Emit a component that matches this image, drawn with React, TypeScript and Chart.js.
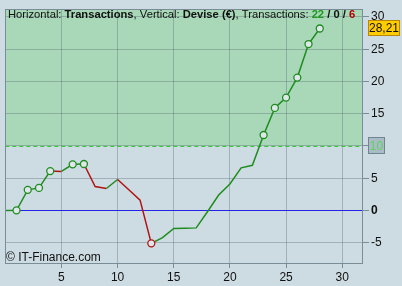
import React, { useEffect, useRef } from "react";
import { Chart, registerables } from "chart.js";
Chart.register(...registerables);

const transactions = [0, 1, 2, 3, 4, 5, 6, 7, 8, 9, 10, 11, 12, 13, 14, 15, 16, 17, 18, 19, 20, 21, 22, 23, 24, 25, 26, 27, 28];
const equity = [0, 0.02, 3.2, 3.5, 6.1, 6.05, 7.15, 7.2, 3.7, 3.4, 4.8, 3.2, 1.6, -5.1, -4.2, -2.8, -2.75, -2.7, -0.2, 2.4, 4.1, 6.6, 7.0, 11.7, 15.9, 17.5, 20.6, 25.8, 28.21];
const highMarkers = [1, 2, 3, 4, 6, 7, 23, 24, 25, 26, 27, 28];
const lowMarkers = [13];
const yTicks = [-5, 0, 5, 10, 15, 20, 25, 30];
const xTicks = [5, 10, 15, 20, 25, 30];
const targetLevel = 10;
const lastValueLabel = "28,21";
const wins = 22, neutral = 0, losses = 6;

const GREEN = "#1e8c1e";
const RED = "#b01414";
const FONT = "'Liberation Sans', Arial, sans-serif";

export default function App() {
  const ref = useRef<HTMLCanvasElement>(null);
  useEffect(() => {
    document.body.style.margin = "0";
    const canvas = ref.current!;
    const bgPlugin = {
      id: "bg",
      beforeDraw(chart: any) {
        const { ctx, chartArea: a, scales } = chart;
        ctx.save();
        ctx.fillStyle = "#cddbe2";
        ctx.fillRect(0, 0, chart.width, chart.height);
        const y10 = scales.y.getPixelForValue(targetLevel);
        ctx.fillStyle = "#a9d8b9";
        ctx.fillRect(a.left, a.top, a.right - a.left, y10 - a.top);
        ctx.restore();
      },
      beforeDatasetsDraw(chart: any) {
        const { ctx, chartArea: a, scales } = chart;
        ctx.save();
        const y0 = Math.round(scales.y.getPixelForValue(0)) + 0.5;
        ctx.strokeStyle = "#2424e8";
        ctx.lineWidth = 1;
        ctx.beginPath();
        ctx.moveTo(a.left, y0);
        ctx.lineTo(a.right, y0);
        ctx.stroke();
        const y10 = Math.round(scales.y.getPixelForValue(targetLevel)) + 0.5;
        ctx.strokeStyle = "#33cc33";
        ctx.lineWidth = 1;
        ctx.setLineDash([4, 3]);
        ctx.beginPath();
        ctx.moveTo(a.left, y10);
        ctx.lineTo(a.right, y10);
        ctx.stroke();
        ctx.restore();
      },
      afterDraw(chart: any) {
        const { ctx, chartArea: a, scales } = chart;
        ctx.save();
        ctx.setLineDash([]);
        // border
        ctx.strokeStyle = "#7a8c96";
        ctx.lineWidth = 1;
        ctx.strokeRect(Math.round(a.left) + 0.5, Math.round(a.top) + 0.5, Math.round(a.right - a.left) - 1, Math.round(a.bottom - a.top) - 1);
        // title
        ctx.textAlign = "left";
        ctx.textBaseline = "alphabetic";
        let x = 8;
        const y = 18;
        const parts: [string, boolean, string][] = [
          ["Horizontal: ", false, "#111"],
          ["Transactions", true, "#111"],
          [", Vertical: ", false, "#111"],
          ["Devise (€)", true, "#111"],
          [", Transactions: ", false, "#111"],
          [String(wins), true, "#1a9a1a"],
          [" / ", true, "#111"],
          [String(neutral), true, "#111"],
          [" / ", true, "#111"],
          [String(losses), true, "#b00000"],
        ];
        for (const [t, b, c] of parts) {
          ctx.font = `${b ? "bold " : ""}11.2px ${FONT}`;
          ctx.fillStyle = c;
          ctx.fillText(t, x, y);
          x += ctx.measureText(t).width;
        }
        // copyright
        ctx.font = `12px ${FONT}`;
        ctx.fillStyle = "#111";
        ctx.fillText("© IT-Finance.com", 6, 261);
        // level label box
        const y10 = Math.round(scales.y.getPixelForValue(targetLevel));
        ctx.fillStyle = "#a9bcc6";
        ctx.fillRect(368.5, y10 - 8.5, 16, 16);
        ctx.strokeStyle = "#6f8590";
        ctx.strokeRect(368.5, y10 - 8.5, 16, 16);
        ctx.font = `12px ${FONT}`;
        ctx.fillStyle = "#5fd25f";
        ctx.textAlign = "center";
        ctx.textBaseline = "middle";
        ctx.fillText(String(targetLevel), 376.5, y10 + 0.5);
        // last value box
        const yl = scales.y.getPixelForValue(equity[equity.length - 1]);
        const by = Math.round(yl) - 7.5;
        ctx.fillStyle = "#ffcc00";
        ctx.fillRect(368.5, by, 31, 15);
        ctx.strokeStyle = "#b8860b";
        ctx.strokeRect(368.5, by, 31, 15);
        ctx.fillStyle = "#111";
        ctx.fillText(lastValueLabel, 384, by + 8);
        ctx.restore();
      },
    };
    const data = transactions.map((t, i) => ({ x: t, y: equity[i] }));
    const chart = new Chart(canvas, {
      type: "line",
      data: {
        datasets: [
          {
            data,
            borderWidth: 1.5,
            borderColor: GREEN,
            segment: {
              borderColor: (c: any) => (c.p1.parsed.y < c.p0.parsed.y ? RED : GREEN),
            },
            pointRadius: (c: any) => (highMarkers.includes(c.dataIndex) || lowMarkers.includes(c.dataIndex) ? 3.5 : 0),
            pointBorderColor: (c: any) => (lowMarkers.includes(c.dataIndex) ? RED : GREEN),
            pointBackgroundColor: "#dfe7ea",
            pointBorderWidth: 1.3,
            tension: 0,
          },
        ],
      },
      options: {
        animation: false,
        responsive: false,
        maintainAspectRatio: false,
        plugins: { legend: { display: false }, tooltip: { enabled: false } },
        layout: { padding: { left: 5, top: 7, right: 0, bottom: 0 } },
        scales: {
          x: {
            type: "linear",
            position: "bottom",
            min: 0,
            max: 31.85,
            afterBuildTicks: (s: any) => {
              s.ticks = xTicks.map((v) => ({ value: v }));
            },
            afterFit: (s: any) => {
              s.height = 22;
            },
            grid: { color: "rgba(80,100,110,0.35)", tickColor: "#7a8c96", tickLength: 4, drawTicks: true },
            border: { display: false },
            ticks: { color: "#111", font: { family: FONT, size: 12 }, padding: 2, maxRotation: 0, autoSkip: false },
          },
          y: {
            type: "linear",
            position: "right",
            min: -8.3,
            max: 31.2,
            afterBuildTicks: (s: any) => {
              s.ticks = yTicks.map((v) => ({ value: v }));
            },
            afterFit: (s: any) => {
              s.width = 39;
            },
            grid: { color: "rgba(80,100,110,0.35)", tickColor: "#7a8c96", tickLength: 6, drawTicks: true },
            border: { display: false },
            ticks: {
              color: "#111",
              font: (c: any) => ({ family: FONT, size: 12, weight: c.tick && c.tick.value === 0 ? "bold" : "normal" }),
              padding: 2,
              autoSkip: false,
              callback: (v: any) => (v === targetLevel ? "" : String(v)),
            },
          },
        },
      },
      plugins: [bgPlugin],
    } as any);
    return () => chart.destroy();
  }, []);
  return <canvas ref={ref} width={402} height={286} style={{ display: "block", width: 402, height: 286 }} />;
}
